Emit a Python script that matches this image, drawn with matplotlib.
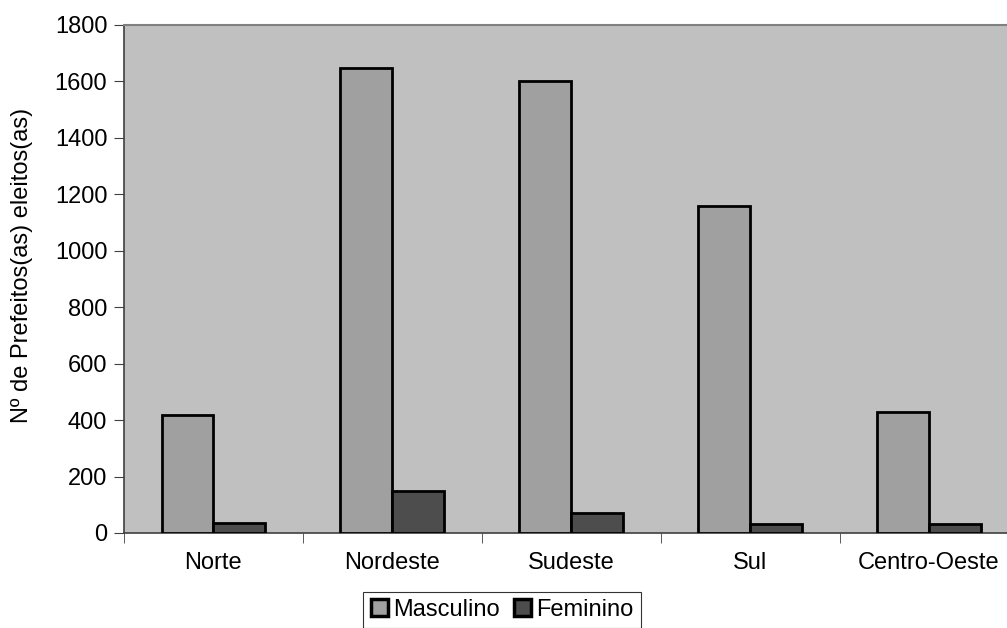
import matplotlib
matplotlib.use('Agg')
import matplotlib.pyplot as plt
import numpy as np

regioes = ['Norte', 'Nordeste', 'Sudeste', 'Sul', 'Centro-Oeste']
masculino = [418, 1647, 1600, 1160, 428]
feminino = [36, 150, 70, 32, 32]
yticks = list(range(0, 1801, 200))

plt.rcParams['font.family'] = ['Liberation Sans', 'DejaVu Sans']

fig = plt.figure(figsize=(10.07, 6.28), dpi=100)
ax = fig.add_axes([0.1231, 0.1513, 0.8883, 0.8089])
ax.set_facecolor('#C0C0C0')

x = np.arange(len(regioes))
w = 0.29
ax.bar(x - w / 2, masculino, w, color='#A0A0A0', edgecolor='black', linewidth=2, label='Masculino', zorder=3)
ax.bar(x + w / 2, feminino, w, color='#4D4D4D', edgecolor='black', linewidth=2, label='Feminino', zorder=3)

ax.set_xlim(-0.5, len(regioes) - 0.5)
ax.set_ylim(0, 1800)
ax.set_yticks(yticks)
ax.set_yticklabels([str(v) for v in yticks], fontsize=17)
ax.set_xticks(x)
ax.set_xticklabels(regioes, fontsize=17)
ax.set_xticks(np.arange(-0.5, len(regioes)), minor=True)
ax.tick_params(axis='x', which='major', length=0, pad=14)
ax.tick_params(axis='x', which='minor', length=7, direction='out', color='#404040')
ax.tick_params(axis='y', length=7, direction='out', color='#404040', pad=5)

for s in ['left', 'bottom']:
    ax.spines[s].set_color('#404040')
    ax.spines[s].set_linewidth(1.2)
ax.spines['top'].set_color('#808080')
ax.spines['top'].set_linewidth(1.5)
ax.spines['right'].set_visible(False)

ax.set_ylabel('Nº de Prefeitos(as) eleitos(as)', fontsize=17)
ax.yaxis.set_label_coords(-0.102, 0.527)

leg = fig.legend(loc='upper center', bbox_to_anchor=(0.4985, 0.0575), ncol=2, fontsize=17,
                 frameon=True, fancybox=False, edgecolor='black', borderaxespad=0,
                 handlelength=0.75, handleheight=0.75, handletextpad=0.2, columnspacing=0.6,
                 borderpad=0.3)
leg.get_frame().set_linewidth(0.8)
for h in leg.legend_handles:
    h.set_linewidth(2.5)

fig.savefig('out.png', dpi=100, facecolor='white')
